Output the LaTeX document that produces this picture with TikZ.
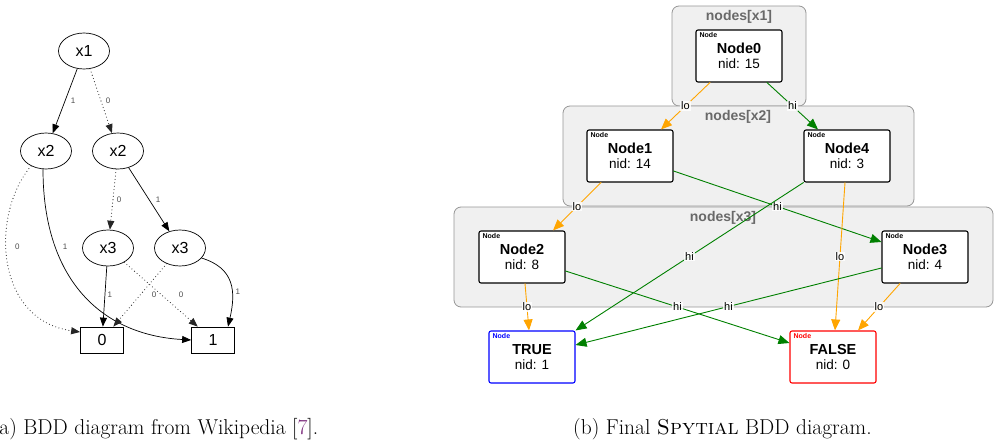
\documentclass[tikz,border=0pt]{standalone}
\usepackage{fontspec}
\setsansfont{Liberation Sans}
\usetikzlibrary{arrows.meta,shapes.geometric,calc}
\definecolor{clo}{RGB}{255,165,0}
\definecolor{chi}{RGB}{0,128,0}
\definecolor{cgroup}{RGB}{240,240,240}
\definecolor{cgroupline}{RGB}{150,150,150}
\definecolor{cgrouptext}{RGB}{105,105,105}
\definecolor{ctrue}{RGB}{0,0,255}
\definecolor{cfalse}{RGB}{255,0,0}
\definecolor{ccite}{RGB}{125,45,125}
\newcommand{\bddbody}[2]{{\bfseries\fontsize{14.5}{16}\selectfont #1}\\[-0.5pt]nid: #2}

\begin{document}
\begin{tikzpicture}[x=1pt,y=-1pt,line cap=round,
  var/.style={ellipse,draw,line width=0.7pt,minimum width=51pt,minimum height=36pt,inner sep=0pt,
    font=\sffamily\fontsize{16}{16}\selectfont},
  leaf/.style={rectangle,draw,line width=0.7pt,minimum width=43pt,minimum height=26pt,inner sep=0pt,
    font=\sffamily\fontsize{16}{16}\selectfont},
  one/.style={line width=0.7pt,-{Triangle[length=9pt,width=7pt]}},
  zero/.style={one,draw=black!85,dash pattern=on 0pt off 3.4pt,line width=1.1pt},
  bit/.style={font=\sffamily\fontsize{8}{8}\selectfont,text=black!70,inner sep=0pt,pos=.5},
  group/.style={draw=cgroupline,fill=cgroup,rounded corners=7pt,line width=0.8pt},
  grouplbl/.style={font=\sffamily\bfseries\fontsize{14}{14}\selectfont,text=cgrouptext},
  bddnode/.style={rectangle,draw=#1,fill=white,line width=1.1pt,rounded corners=2pt,
    minimum width=86pt,minimum height=52pt,inner sep=0pt,align=center,
    font=\sffamily\fontsize{13.5}{16}\selectfont,
    label={[anchor=north west,inner sep=0pt,xshift=4pt,yshift=-3pt,text=#1,
      font=\sffamily\bfseries\fontsize{7}{7}\selectfont]north west:Node}},
  bddnode/.default=black,
  lo/.style={draw=clo,line width=0.9pt,-{Triangle[length=11pt,width=9pt]}},
  hi/.style={draw=chi,line width=0.9pt,-{Triangle[length=11pt,width=9pt]}},
  wire/.style={font=\sffamily\fontsize{11}{11}\selectfont,fill=white,fill opacity=0.85,text opacity=1,
    inner sep=0.8pt,pos=.5},
  caption/.style={font=\fontsize{21.5}{24}\selectfont,anchor=base west,inner sep=0pt}]
\useasboundingbox (0,0) rectangle (994,444);

% ---------- (a) classic BDD ----------
\node[var] (x1) at (84,51) {x1};
\node[var] (x2l) at (46,151) {x2};
\node[var] (x2r) at (118,151) {x2};
\node[var] (x3l) at (108,248) {x3};
\node[var] (x3r) at (180,248) {x3};
\node[leaf] (f0) at (102,340) {0};
\node[leaf] (f1) at (213,340) {1};

\draw[one] (x1) -- (x2l) node[bit,xshift=8pt]{1};
\draw[zero] (x1) -- (x2r) node[bit,xshift=7pt]{0};
\draw[zero] (x2l.225) .. controls +(-41,49) and +(-85,-12) .. ([yshift=8pt]f0.west)
  node[bit,pos=.42,xshift=11pt]{0};
\draw[one] ([xshift=-3pt]x2l.south) .. controls +(0,110) and +(-90,-5) .. (f1.west)
  node[bit,pos=.27,xshift=10pt]{1};
\draw[zero] (x2r) -- (x3l) node[bit,xshift=6pt]{0};
\draw[one] (x2r) -- (x3r) node[bit,xshift=9pt]{1};
\draw[one] (x3l) -- (f0) node[bit,xshift=5pt,yshift=2pt]{1};
\draw[zero] (x3l) -- (f1) node[bit,xshift=20pt]{0};
\draw[zero] (x3r) -- (f0) node[bit,xshift=14pt]{0};
\draw[one] (x3r.-25) .. controls +(33,10) and +(8,-35) .. ([xshift=15pt]f1.north)
  node[bit,pos=.62,xshift=6pt]{1};

\node[caption] (capa) at (-8.4,434) {(a) BDD diagram from Wikipedia [\textcolor{ccite}{7}].};

% ---------- (b) layered layout ----------
\draw[group] (672,6) rectangle (806,106);
\node[grouplbl] (gx1) at (739,17) {nodes[x1]};
\draw[group] (563,106) rectangle (914,206);
\node[grouplbl] (gx2) at (738,117) {nodes[x2]};
\draw[group] (454,207) rectangle (993,307);
\node[grouplbl] (gx3) at (723,218) {nodes[x3]};

\node[bddnode] (n0) at (739,56) {\bddbody{Node0}{15}};
\node[bddnode] (n1) at (630,156) {\bddbody{Node1}{14}};
\node[bddnode] (n4) at (847,156) {\bddbody{Node4}{3}};
\node[bddnode] (n2) at (522,257) {\bddbody{Node2}{8}};
\node[bddnode] (n3) at (925,257) {\bddbody{Node3}{4}};
\node[bddnode=ctrue] (nt) at (532,357) {\bddbody{TRUE}{1}};
\node[bddnode=cfalse] (nf) at (833,357) {\bddbody{FALSE}{0}};

\draw[lo] ([xshift=-29pt]n0.south) -- ([xshift=31pt]n1.north) node[wire]{lo};
\draw[hi] ([xshift=28pt]n0.south) -- ([xshift=-29pt]n4.north) node[wire]{hi};
\draw[lo] ([xshift=-29pt]n1.south) -- ([xshift=31pt]n2.north) node[wire]{lo};
\draw[hi] ([yshift=-15pt]n1.east) -- ([yshift=15pt]n3.west) node[wire]{hi};
\draw[hi] (n4.south west) -- (nt.north east) node[wire]{hi};
\draw[lo] ([xshift=-2pt]n4.south) -- ([xshift=2pt]nf.north) node[wire]{lo};
\draw[lo] ([xshift=3pt]n2.south) -- ([xshift=-3pt]nt.north) node[wire]{lo};
\draw[hi] ([yshift=-14pt]n2.east) -- ([yshift=14pt]nf.west) node[wire]{hi};
\draw[hi] ([yshift=-11pt]n3.west) -- ([yshift=12pt]nt.east) node[wire]{hi};
\draw[lo] ([xshift=-25pt]n3.south) -- ([xshift=25pt]nf.north) node[wire]{lo};

\node[caption] (capb) at (573,434) {(b) Final \textsc{Spytial} BDD diagram.};
\end{tikzpicture}
\end{document}
